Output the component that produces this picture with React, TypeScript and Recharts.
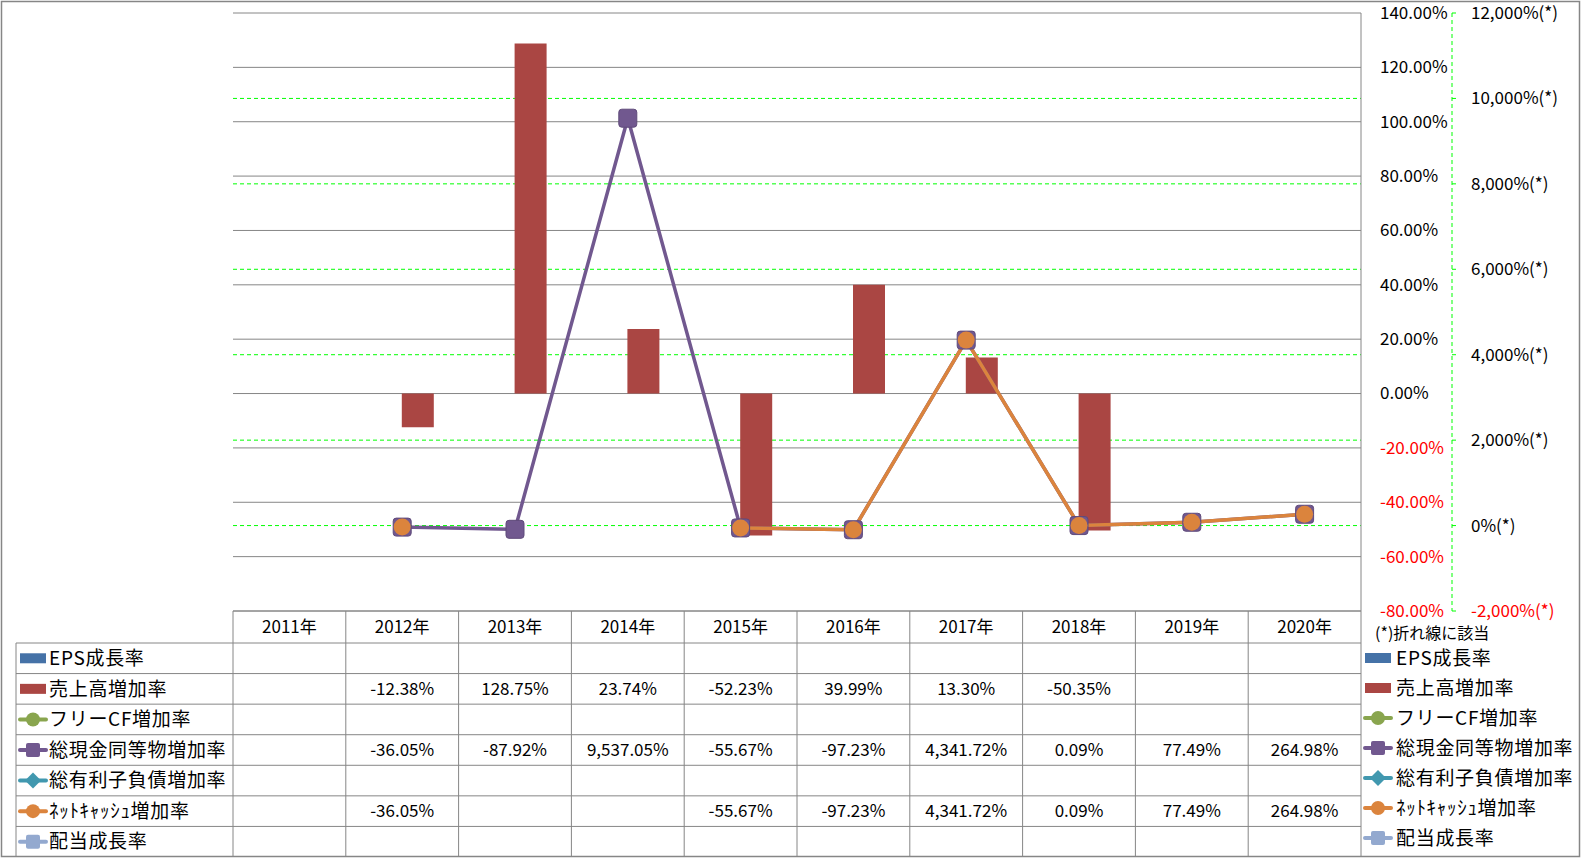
import React from 'react'
import {
  ComposedChart,
  Bar,
  Line,
  XAxis,
  YAxis,
  CartesianGrid,
} from 'recharts'

const years = ['2011年', '2012年', '2013年', '2014年', '2015年', '2016年', '2017年', '2018年', '2019年', '2020年']
const epsGrowth: (number | null)[] = [null, null, null, null, null, null, null, null, null, null]
const salesGrowth: (number | null)[] = [null, -12.38, 128.75, 23.74, -52.23, 39.99, 13.3, -50.35, null, null]
const freeCfGrowth: (number | null)[] = [null, null, null, null, null, null, null, null, null, null]
const cashGrowth: (number | null)[] = [null, -36.05, -87.92, 9537.05, -55.67, -97.23, 4341.72, 0.09, 77.49, 264.98]
const debtGrowth: (number | null)[] = [null, null, null, null, null, null, null, null, null, null]
const netCashGrowth: (number | null)[] = [null, -36.05, null, null, -55.67, -97.23, 4341.72, 0.09, 77.49, 264.98]
const dividendGrowth: (number | null)[] = [null, null, null, null, null, null, null, null, null, null]

const barTicks = [-80, -60, -40, -20, 0, 20, 40, 60, 80, 100, 120, 140]
const lineTicks = [-2000, 0, 2000, 4000, 6000, 8000, 10000, 12000]
// green grid only between the ends (ends are covered by the gray frame lines)
const lineGridTicks = [0, 2000, 4000, 6000, 8000, 10000]

const FONT = "'Noto Sans CJK JP', 'Noto Sans', sans-serif"
const W = 1581
const H = 858
const PLOT_L = 233
const PLOT_T = 13
const PLOT_B = 611
const AX1_W = 91
const AX2_W = 129
const PLOT_R = W - AX1_W - AX2_W
const HEAD_B = 643
const ROW_H = (857 - HEAD_B) / 7
const GRAY = '#868686'
const GREEN = '#00ff00'

const series = [
  { key: 'eps', name: 'EPS成長率', color: '#4572A7', kind: 'bar', values: epsGrowth },
  { key: 'sales', name: '売上高増加率', color: '#AA4643', kind: 'bar', values: salesGrowth },
  { key: 'fcf', name: 'フリーCF増加率', color: '#89A54E', kind: 'circle', values: freeCfGrowth },
  { key: 'cash', name: '総現金同等物増加率', color: '#71588F', kind: 'square', values: cashGrowth },
  { key: 'debt', name: '総有利子負債増加率', color: '#4198AF', kind: 'diamond', values: debtGrowth },
  { key: 'net', name: 'ﾈｯﾄｷｬｯｼｭ増加率', color: '#DB843D', kind: 'circle', values: netCashGrowth },
  { key: 'div', name: '配当成長率', color: '#93A9CF', kind: 'square', values: dividendGrowth },
]

const data = years.map((y, i) => {
  const row: Record<string, string | number | null> = { year: y }
  series.forEach((s) => (row[s.key] = s.values[i]))
  return row
})

function fmtPct(v: number) {
  return (
    v.toLocaleString('en-US', { minimumFractionDigits: 2, maximumFractionDigits: 2 }) + '%'
  )
}

const BarTick = ({ x, y, payload }: any) => (
  <text x={x} y={y} dy="0.35em" fontSize={17} fontFamily={FONT} fill={payload.value < 0 ? '#ff0000' : '#000'}>
    {payload.value.toFixed(2) + '%'}
  </text>
)

const LineTick = ({ x, y, payload }: any) => (
  <text x={x} y={y} dy="0.35em" fontSize={17} fontFamily={FONT} fill={payload.value < 0 ? '#ff0000' : '#000'}>
    {payload.value.toLocaleString('en-US') + '%(*)'}
  </text>
)

const YearTick = ({ x, y, payload }: any) => (
  <text x={x} y={y} dy="0.35em" textAnchor="middle" fontSize={17} fontFamily={FONT} fill="#000">
    {payload.value}
  </text>
)

const SquareDot = (color: string) => (p: any) => {
  if (p.value == null || p.cx == null) return <g key={p.key} />
  return <rect key={p.key} x={p.cx - 9} y={p.cy - 9} width={18} height={18} rx={3} fill={color} stroke="#5f4a7a" strokeWidth={1} />
}

const CircleDot = (color: string) => (p: any) => {
  if (p.value == null || p.cx == null) return <g key={p.key} />
  return <circle key={p.key} cx={p.cx} cy={p.cy} r={8.5} fill={color} />
}

function LegendIcon({ x, y, s }: { x: number; y: number; s: (typeof series)[number] }) {
  if (s.kind === 'bar') return <rect x={x} y={y - 5} width={26} height={10} fill={s.color} />
  let marker
  if (s.kind === 'circle') marker = <circle cx={x + 13} cy={y} r={7} fill={s.color} />
  else if (s.kind === 'square') marker = <rect x={x + 6} y={y - 7} width={14} height={14} rx={2} fill={s.color} />
  else marker = <polygon points={`${x + 13},${y - 8} ${x + 21},${y} ${x + 13},${y + 8} ${x + 5},${y}`} fill={s.color} />
  return (
    <g>
      <line x1={x} y1={y} x2={x + 26} y2={y} stroke={s.color} strokeWidth={4} strokeLinecap="round" />
      {marker}
    </g>
  )
}

function TableOverlay() {
  const colW = (PLOT_R - PLOT_L) / years.length
  const rowsY = series.map((_, k) => HEAD_B + k * ROW_H)
  return (
    <svg width={W} height={H} style={{ position: 'absolute', left: 0, top: 0, pointerEvents: 'none' }}>
      <rect x={1.5} y={1.5} width={W - 3} height={H - 3} fill="none" stroke={GRAY} strokeWidth={1.5} />
      <line x1={PLOT_L} y1={PLOT_B} x2={PLOT_R} y2={PLOT_B} stroke={GRAY} />
      {rowsY.map((y, k) => (
        <line key={k} x1={16} y1={y} x2={PLOT_R} y2={y} stroke={GRAY} />
      ))}
      {years.map((_, i) => (
        <line key={i} x1={PLOT_L + i * colW} y1={PLOT_B} x2={PLOT_L + i * colW} y2={H - 2} stroke={GRAY} />
      ))}
      <line x1={PLOT_R} y1={PLOT_B} x2={PLOT_R} y2={H - 2} stroke={GRAY} />
      <line x1={16} y1={HEAD_B} x2={16} y2={H - 2} stroke={GRAY} />
      {series.map((s, k) => {
        const cy = rowsY[k] + ROW_H / 2
        return (
          <g key={s.key}>
            <LegendIcon x={20} y={cy} s={s} />
            <text x={49} y={cy} dy="0.35em" fontSize={19} fontFamily={FONT} fill="#000" letterSpacing={0.7}>
              {s.name}
            </text>
            {s.values.map((v, i) =>
              v == null ? null : (
                <text key={i} x={PLOT_L + (i + 0.5) * colW} y={cy} dy="0.35em" textAnchor="middle" fontSize={17} fontFamily={FONT} fill="#000">
                  {fmtPct(v)}
                </text>
              ),
            )}
          </g>
        )
      })}
      <text x={1375} y={633} dy="0.35em" fontSize={16} fontFamily={FONT} fill="#000">
        (*)折れ線に該当
      </text>
      {series.map((s, k) => {
        const cy = 658 + k * 30
        return (
          <g key={s.key}>
            <LegendIcon x={1365} y={cy} s={s} />
            <text x={1396} y={cy} dy="0.35em" fontSize={19} fontFamily={FONT} fill="#000" letterSpacing={0.7}>
              {s.name}
            </text>
          </g>
        )
      })}
    </svg>
  )
}

export default function App() {
  return (
    <div style={{ position: 'absolute', left: 0, top: 0, width: W, height: H, background: '#fff', fontFamily: FONT }}>
      <ComposedChart
        width={W}
        height={H}
        data={data}
        margin={{ top: PLOT_T, right: 0, left: PLOT_L, bottom: 0 }}
        barGap={0}
        barSize={32}
      >
        <CartesianGrid yAxisId="bar" vertical={false} stroke={GRAY} />
        <CartesianGrid
          yAxisId="line"
          vertical={false}
          stroke={GREEN}
          strokeDasharray="4 3"
          syncWithTicks={false}
          horizontalValues={lineGridTicks}
        />
        <XAxis
          dataKey="year"
          height={H - PLOT_B}
          axisLine={false}
          tickLine={false}
          tickSize={0}
          tickMargin={16}
          interval={0}
          tick={YearTick}
        />
        <YAxis
          yAxisId="bar"
          orientation="right"
          width={AX1_W}
          domain={[-80, 140]}
          ticks={barTicks}
          interval={0}
          axisLine={{ stroke: GRAY }}
          tickLine={false}
          tickSize={0}
          tickMargin={19}
          tick={BarTick}
        />
        <YAxis
          yAxisId="line"
          orientation="right"
          width={AX2_W}
          domain={[-2000, 12000]}
          ticks={lineTicks}
          interval={0}
          axisLine={{ stroke: GREEN, strokeDasharray: '4 3' }}
          tickLine={{ stroke: GREEN }}
          tickSize={4}
          tickMargin={15}
          tick={LineTick}
        />
        <Bar yAxisId="bar" dataKey="eps" name="EPS成長率" fill="#4572A7" isAnimationActive={false} />
        <Bar yAxisId="bar" dataKey="sales" name="売上高増加率" fill="#AA4643" isAnimationActive={false} />
        <Line yAxisId="line" dataKey="fcf" stroke="#89A54E" strokeWidth={3.5} dot={false} isAnimationActive={false} />
        <Line
          yAxisId="line"
          dataKey="cash"
          stroke="#71588F"
          strokeWidth={3.5}
          dot={SquareDot('#71588F')}
          activeDot={false}
          isAnimationActive={false}
        />
        <Line yAxisId="line" dataKey="debt" stroke="#4198AF" strokeWidth={3.5} dot={false} isAnimationActive={false} />
        <Line
          yAxisId="line"
          dataKey="net"
          stroke="#DB843D"
          strokeWidth={3.5}
          dot={CircleDot('#DB843D')}
          activeDot={false}
          isAnimationActive={false}
        />
        <Line yAxisId="line" dataKey="div" stroke="#93A9CF" strokeWidth={3.5} dot={false} isAnimationActive={false} />
      </ComposedChart>
      <TableOverlay />
    </div>
  )
}
